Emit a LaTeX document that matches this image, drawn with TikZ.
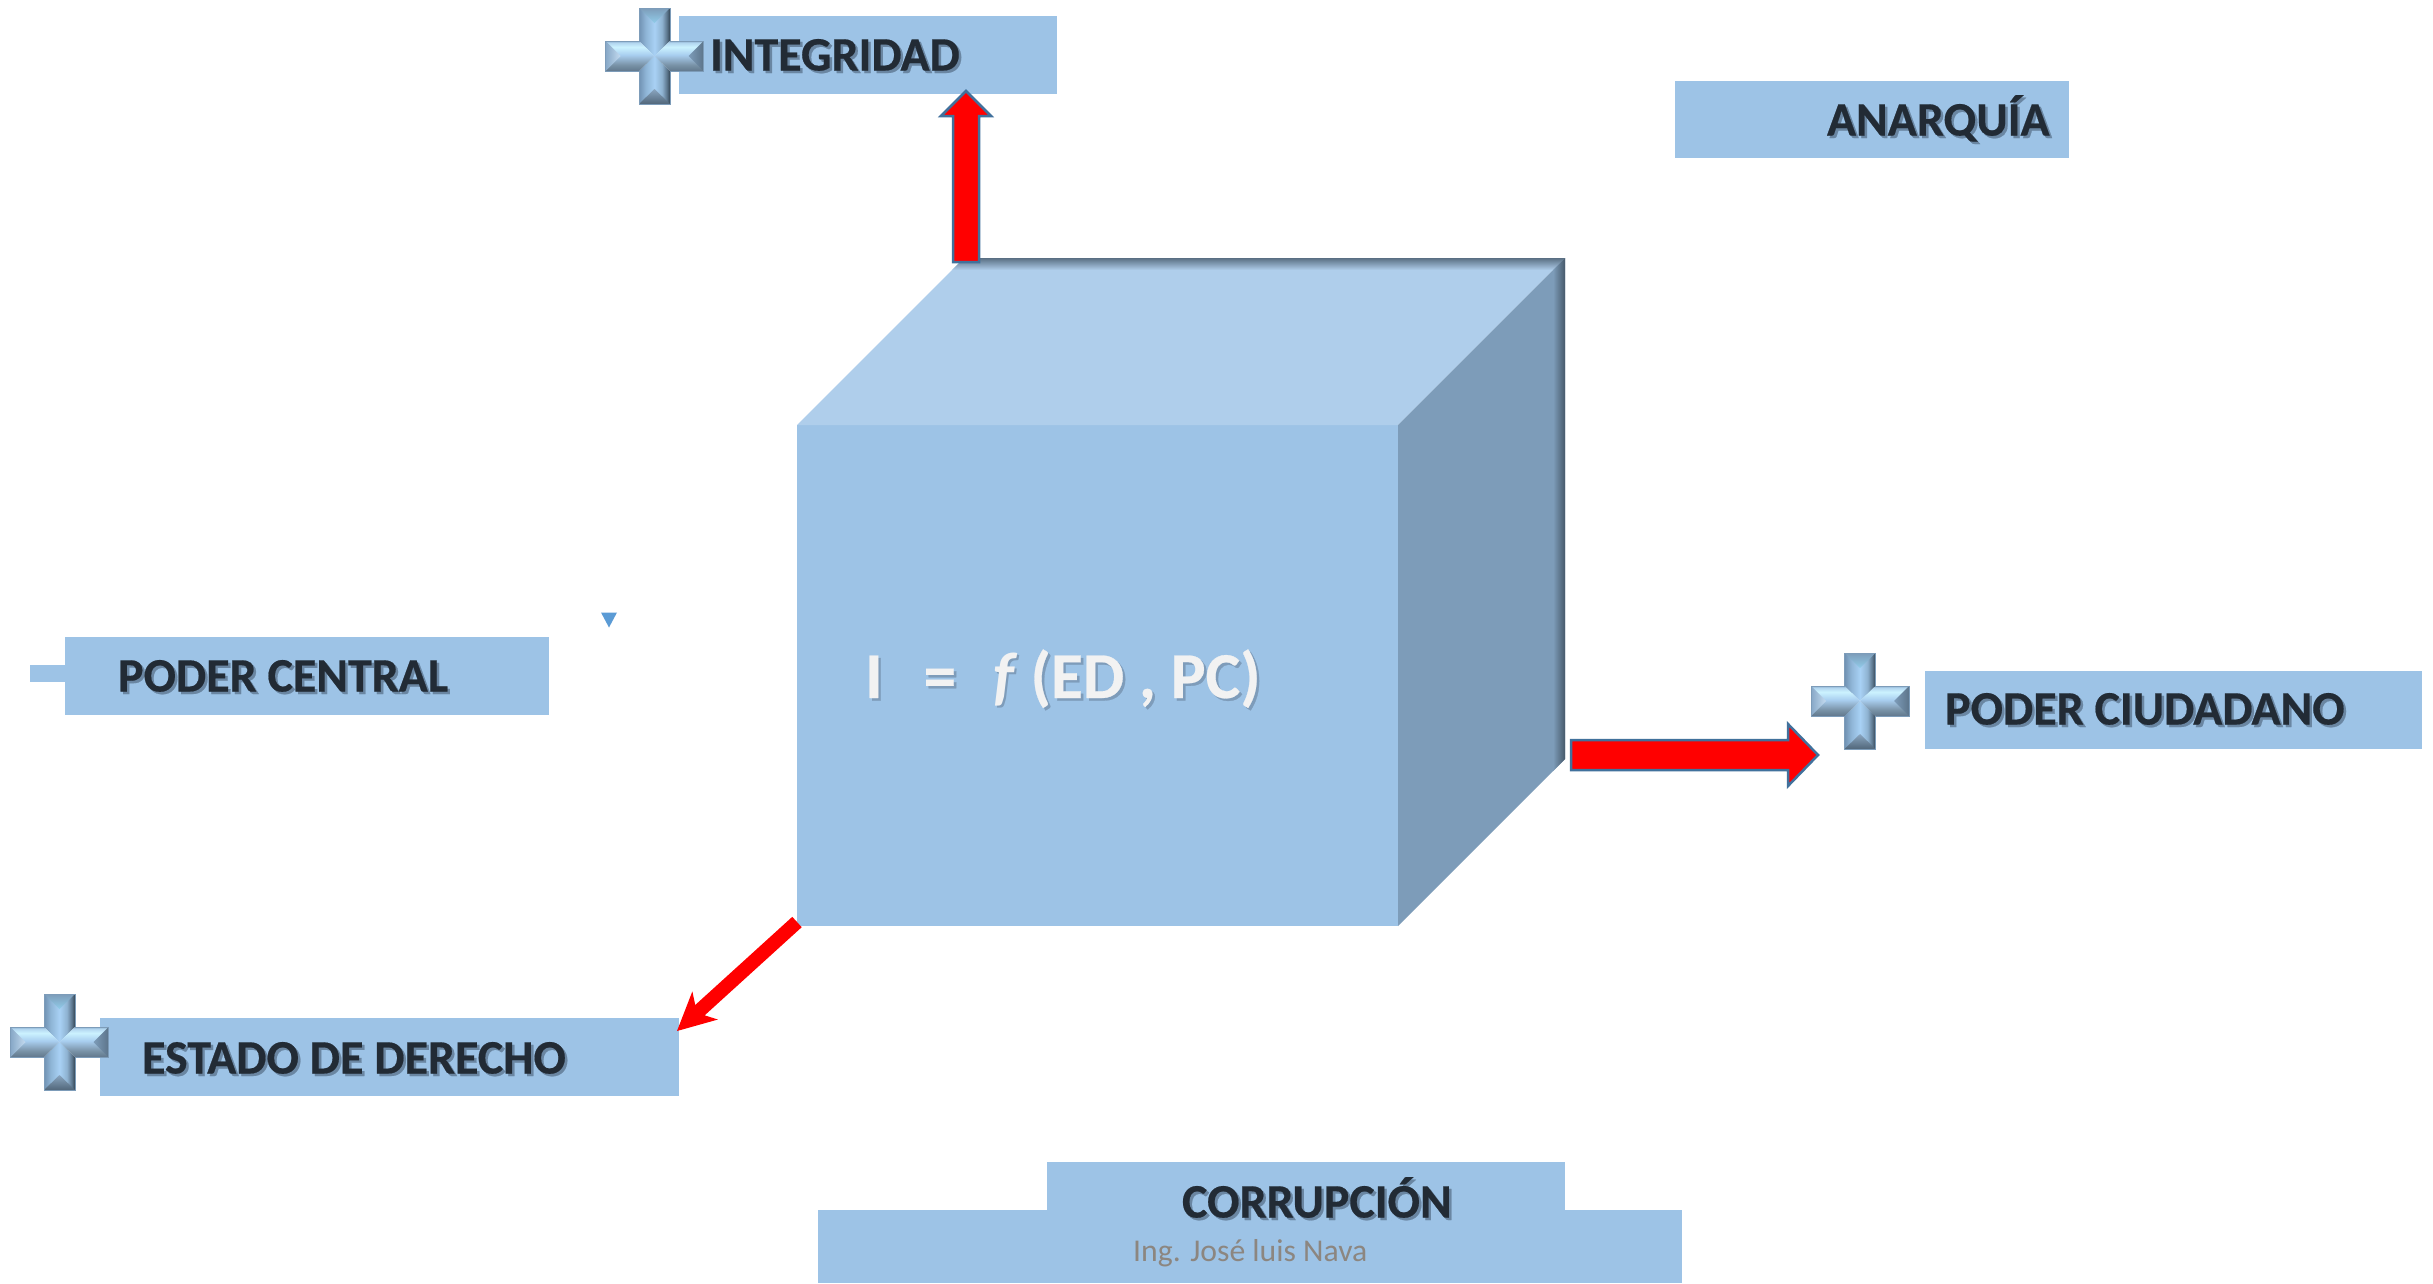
\documentclass[tikz,border=0pt]{standalone}
\usepackage{fontspec}
\setmainfont{Carlito}[BoldFeatures={FakeBold=0.4}]
\usetikzlibrary{calc}
\definecolor{boxblue}{HTML}{9DC3E6}
\definecolor{topblue}{HTML}{AFCEEB}
\definecolor{sideblue}{HTML}{7D9CB9}
\definecolor{edgedark}{HTML}{5A6F83}
\definecolor{sidedark}{HTML}{46596A}
\definecolor{inkdark}{HTML}{222B35}
\definecolor{inkshadow}{HTML}{6A86A2}
\definecolor{arrowedge}{HTML}{41719C}
\definecolor{inkgrey}{HTML}{8C8680}
\definecolor{inklight}{HTML}{F2F2F2}
\definecolor{formshadow}{HTML}{7E9CBA}
\definecolor{marker}{HTML}{5B9BD5}
\pgfdeclarehorizontalshading{crossvert}{100bp}{rgb(0bp)=(0.44,0.57,0.70);rgb(25bp)=(0.44,0.57,0.70);rgb(36bp)=(0.56,0.71,0.84);rgb(50bp)=(0.66,0.82,0.96);rgb(62bp)=(0.56,0.70,0.82);rgb(70bp)=(0.36,0.46,0.55);rgb(75bp)=(0.20,0.27,0.33);rgb(100bp)=(0.20,0.27,0.33)}
\pgfdeclareverticalshading{crosshorz}{100bp}{rgb(0bp)=(0.38,0.47,0.55);rgb(25bp)=(0.38,0.47,0.55);rgb(35bp)=(0.47,0.57,0.65);rgb(48bp)=(0.62,0.75,0.87);rgb(52bp)=(0.66,0.81,0.94);rgb(65bp)=(0.80,0.95,1.0);rgb(72bp)=(0.70,0.84,0.94);rgb(75bp)=(0.56,0.70,0.82);rgb(100bp)=(0.56,0.70,0.82)}
\tikzset{
  bluebox/.style={fill=boxblue,draw=none,inner sep=0pt,outer sep=0pt,anchor=north west},
  boxlabel/.style={anchor=base west,inner sep=0pt,outer sep=0pt,font=\fontsize{48}{56}\selectfont\bfseries,text=inkdark},
  labelshadow/.style={boxlabel,text=inkshadow},
  redarrow/.style={fill=red,draw=arrowedge,line width=2.5pt,line join=miter},
  plainred/.style={fill=red,draw=none}
}
\newcommand{\boxat}[5]{\node[bluebox,minimum width=#4pt,minimum height=#5pt] (#1) at (#2,#3) {};}
\newcommand{\lab}[4]{%
  \node[labelshadow] at (#2+2.5,#3+2.5) {#4};
  \node[boxlabel] (#1) at (#2,#3) {#4};}
\newcommand{\blockarrow}[7]{%
  \coordinate (hb) at ($(#3)!#5!(#2)$);
  \coordinate (hs) at ($(#3)!#7!(#2)$);
  \path[#1] ($(#2)!#4!90:(#3)$) -- ($(hs)!#4!90:(#3)$) -- ($(hb)!#6!90:(#3)$) -- (#3)
    -- ($(hb)!#6!-90:(#3)$) -- ($(hs)!#4!-90:(#3)$) -- ($(#2)!#4!-90:(#3)$) -- cycle;}
\newcommand{\bevelcross}[2]{%
  \begin{scope}[shift={(#1,#2)}]
    \shade[shading=crossvert] (-15.5,-48) -- (15.5,-48) -- (15.5,-15) -- (0,0) -- (-15.5,-15) -- cycle;
    \shade[shading=crossvert] (-15.5,48) -- (15.5,48) -- (15.5,15) -- (0,0) -- (-15.5,15) -- cycle;
    \shade[shading=crosshorz] (-49,-15) -- (-15.5,-15) -- (0,0) -- (-15.5,15) -- (-49,15) -- cycle;
    \shade[shading=crosshorz] (49,-15) -- (15.5,-15) -- (0,0) -- (15.5,15) -- (49,15) -- cycle;
    \shade[top color=sideblue,bottom color=white!30!cyan!15!boxblue] (-15.5,-48) -- (15.5,-48) -- (0,-33) -- cycle;
    \shade[top color=sideblue!90!white,bottom color=sidedark!80!sideblue] (-15.5,48) -- (15.5,48) -- (0,33) -- cycle;
    \shade[left color=sideblue!70!boxblue,right color=boxblue!60!white] (-49,-15) -- (-49,15) -- (-34,0) -- cycle;
    \shade[left color=sideblue,right color=sidedark!60!sideblue] (49,-15) -- (49,15) -- (34,0) -- cycle;
    \draw[sideblue,line width=1pt,line join=miter] (-15.5,-48) -- (15.5,-48) -- (15.5,-15) -- (49,-15) -- (49,15) -- (15.5,15) -- (15.5,48) -- (-15.5,48) -- (-15.5,15) -- (-49,15) -- (-49,-15) -- (-15.5,-15) -- cycle;
  \end{scope}}
\begin{document}
\begin{tikzpicture}[x=1pt,y=-1pt]
\useasboundingbox (0,0) rectangle (2433,1283);
\fill[white] (0,0) rectangle (2433,1283);
% cube
\coordinate (cubeFL) at (797,925);
\fill[boxblue] (797,425) rectangle (1398,926);
\fill[topblue] (797,425) -- (964,258) -- (1565,258) -- (1398,425) -- cycle;
\fill[sideblue] (1398,425) -- (1565,258) -- (1565,759) -- (1398,926) -- cycle;
\shade[top color=edgedark,bottom color=topblue] (964,258) -- (1565,258) -- (1553,270) -- (952,270) -- cycle;
\shade[left color=sideblue,right color=sidedark] (1565,258) -- (1565,759) -- (1553,771) -- (1553,270) -- cycle;
% boxes
\fill[boxblue] (30,665) rectangle (66,682);
\boxat{integridad}{679}{16}{378}{78}
\boxat{anarquia}{1675}{80.5}{394}{77}
\boxat{central}{65}{636.5}{484}{78}
\boxat{ciudadano}{1925}{670.5}{497}{78}
\boxat{estado}{100}{1018}{579}{78}
\boxat{corrupcion}{1047}{1162}{518}{60}
\boxat{autor}{818}{1210}{864}{73}
% marker
\fill[marker] (601,612.5) -- (617,612.5) -- (609,627.5) -- cycle;
% crosses
\bevelcross{654.5}{56}
\bevelcross{59.5}{1042}
\bevelcross{1860}{701}
% labels
\lab{tintegridad}{710}{70.5}{INTEGRIDAD}
\lab{tanarquia}{1827}{135.5}{ANARQUÍA}
\lab{tcentral}{118}{691.5}{PODER CENTRAL}
\lab{tciudadano}{1945}{724.5}{PODER CIUDADANO}
\lab{testado}{142}{1073.5}{ESTADO DE DERECHO}
\lab{tcorrupcion}{1182}{1217.5}{CORRUPCIÓN}
\node[anchor=base west,inner sep=0pt,font=\fontsize{31.7}{36}\selectfont,text=inkgrey] (tautor) at (1133,1261) {Ing. José luis Nava};
% formula
\node[anchor=base west,inner sep=0pt,font=\fontsize{65.5}{76}\selectfont\bfseries,text=formshadow] at (865+2.5,698+2.5) {I\hspace{41pt}=\hspace{37pt}\textit{f}\hspace{13pt}(ED , PC)};
\node[anchor=base west,inner sep=0pt,font=\fontsize{65.5}{76}\selectfont\bfseries,text=inklight] (formula) at (865,698) {I\hspace{41pt}=\hspace{37pt}\textit{f}\hspace{13pt}(ED , PC)};
% arrows
\coordinate (upfrom) at (966,262);
\coordinate (uptip) at (966,91);
\blockarrow{redarrow}{upfrom}{uptip}{13pt}{25pt}{25pt}{25pt}
\coordinate (rightfrom) at (1571,755);
\coordinate (righttip) at (1818,755);
\blockarrow{redarrow}{rightfrom}{righttip}{15pt}{30pt}{31pt}{30pt}
\coordinate (diagfrom) at (797,922);
\coordinate (diagtip) at (677,1031);
\blockarrow{plainred}{diagfrom}{diagtip}{7pt}{38pt}{19pt}{31pt}
\end{tikzpicture}
\end{document}
